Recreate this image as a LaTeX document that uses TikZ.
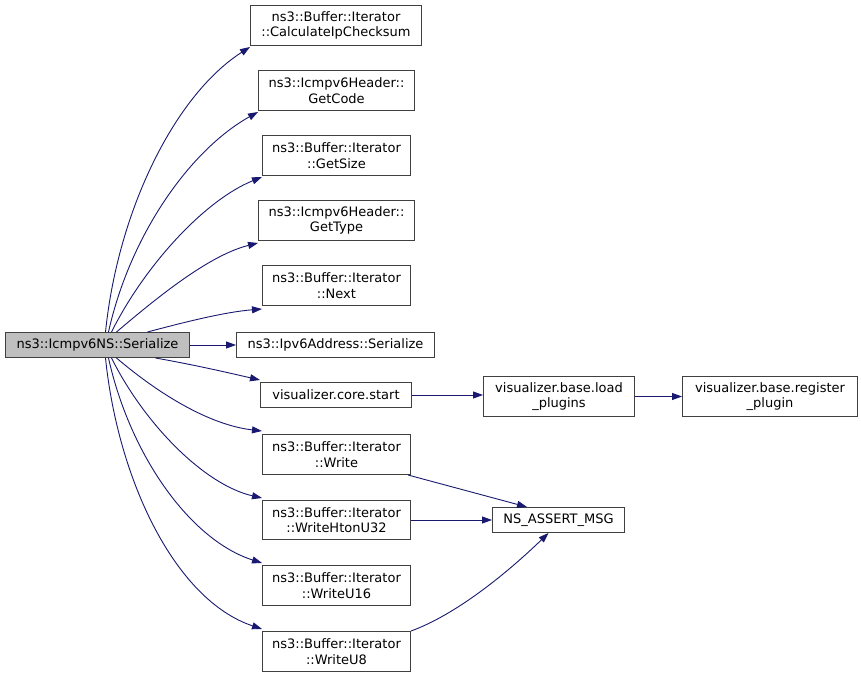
\documentclass[tikz,border=0pt]{standalone}
\usepackage{fontspec}
\setmainfont{DejaVu Sans}
\usetikzlibrary{arrows.meta}
\definecolor{edgeblue}{RGB}{25,25,112}
\definecolor{boxgray}{RGB}{191,191,191}
\tikzset{
  fn/.style={draw=black!75, line width=1pt, fill=white, inner sep=0pt, align=center,
    font=\fontsize{13}{15.5}\selectfont, anchor=north west},
  call/.style={draw=edgeblue, line width=0.9pt, -{Triangle[length=10pt,width=7pt]}},
}
\newcommand{\fnbox}[6]{% name, x1, y1, x2, y2, text
  \node[fn, minimum width={#4-#2}, minimum height={#5-#3}] (#1) at (#2,#3) {#6};}
\begin{document}
\begin{tikzpicture}[x=1pt,y=-1pt]
\useasboundingbox (0,0) rectangle (861,676);
\fill[white] (0,0) rectangle (861,676);
\node[fn, fill=boxgray, minimum width=184, minimum height=25] (ser) at (5,332) {ns3::Icmpv6NS::Serialize};
\fnbox{calc}{250}{5}{421}{45}{ns3::Buffer::Iterator\\::CalculateIpChecksum}
\fnbox{code}{258}{70}{414}{110}{ns3::Icmpv6Header::\\GetCode}
\fnbox{size}{262}{135}{410}{175}{ns3::Buffer::Iterator\\::GetSize}
\fnbox{type}{258}{200}{414}{240}{ns3::Icmpv6Header::\\GetType}
\fnbox{next}{262}{265}{410}{305}{ns3::Buffer::Iterator\\::Next}
\fnbox{ipv6}{236}{332}{434}{357}{ns3::Ipv6Address::Serialize}
\fnbox{start}{260}{382}{411}{407}{visualizer.core.start}
\fnbox{write}{262}{434}{410}{474}{ns3::Buffer::Iterator\\::Write}
\fnbox{hton}{262}{500}{410}{539}{ns3::Buffer::Iterator\\::WriteHtonU32}
\fnbox{u16}{262}{565}{410}{605}{ns3::Buffer::Iterator\\::WriteU16}
\fnbox{u8}{262}{631}{410}{671}{ns3::Buffer::Iterator\\::WriteU8}
\fnbox{assert}{492}{507}{624}{532}{NS\_ASSERT\_MSG}
\fnbox{load}{483}{376}{634}{416}{visualizer.base.load\\\_plugins}
\fnbox{reg}{682}{376}{857}{416}{visualizer.base.register\\\_plugin}
% edges from Serialize (upper)
\draw[call] ([xshift=8]ser.north) .. controls (118,210) and (175,95) .. ([yshift=-1]calc.south west);
\draw[call] ([xshift=11]ser.north) .. controls (130,235) and (190,150) .. ([yshift=-1]code.south west);
\draw[call] ([xshift=14]ser.north) .. controls (145,265) and (205,200) .. ([yshift=-1]size.south west);
\draw[call] ([xshift=19]ser.north) .. controls (160,295) and (210,255) .. ([yshift=-2]type.south west);
\draw[call] ([xshift=50]ser.north) .. controls (185,322) and (225,312) .. ([yshift=-3]next.south west);
\draw[call] (ser.east) -- (ipv6.west);
% lower
\draw[call] ([xshift=58]ser.south) .. controls (195,365) and (225,372) .. ([yshift=2]start.north west);
\draw[call] ([xshift=19]ser.south) .. controls (160,395) and (210,425) .. ([yshift=3]write.north west);
\draw[call] ([xshift=14]ser.south) .. controls (145,425) and (205,485) .. ([yshift=2]hton.north west);
\draw[call] ([xshift=11]ser.south) .. controls (130,455) and (190,540) .. ([yshift=2]u16.north west);
\draw[call] ([xshift=8]ser.south) .. controls (118,480) and (175,600) .. ([yshift=2]u8.north west);
% right side
\draw[call] (start.east) -- (load.west |- start.east);
\draw[call] (load.east) -- (reg.west);
\draw[call] ([xshift=-3]write.south east) -- ([xshift=35]assert.north west);
\draw[call] (hton.east |- assert.west) -- (assert.west);
\draw[call] (u8.north east) .. controls (455,615) and (505,575) .. ([xshift=-10]assert.south);
\end{tikzpicture}
\end{document}
